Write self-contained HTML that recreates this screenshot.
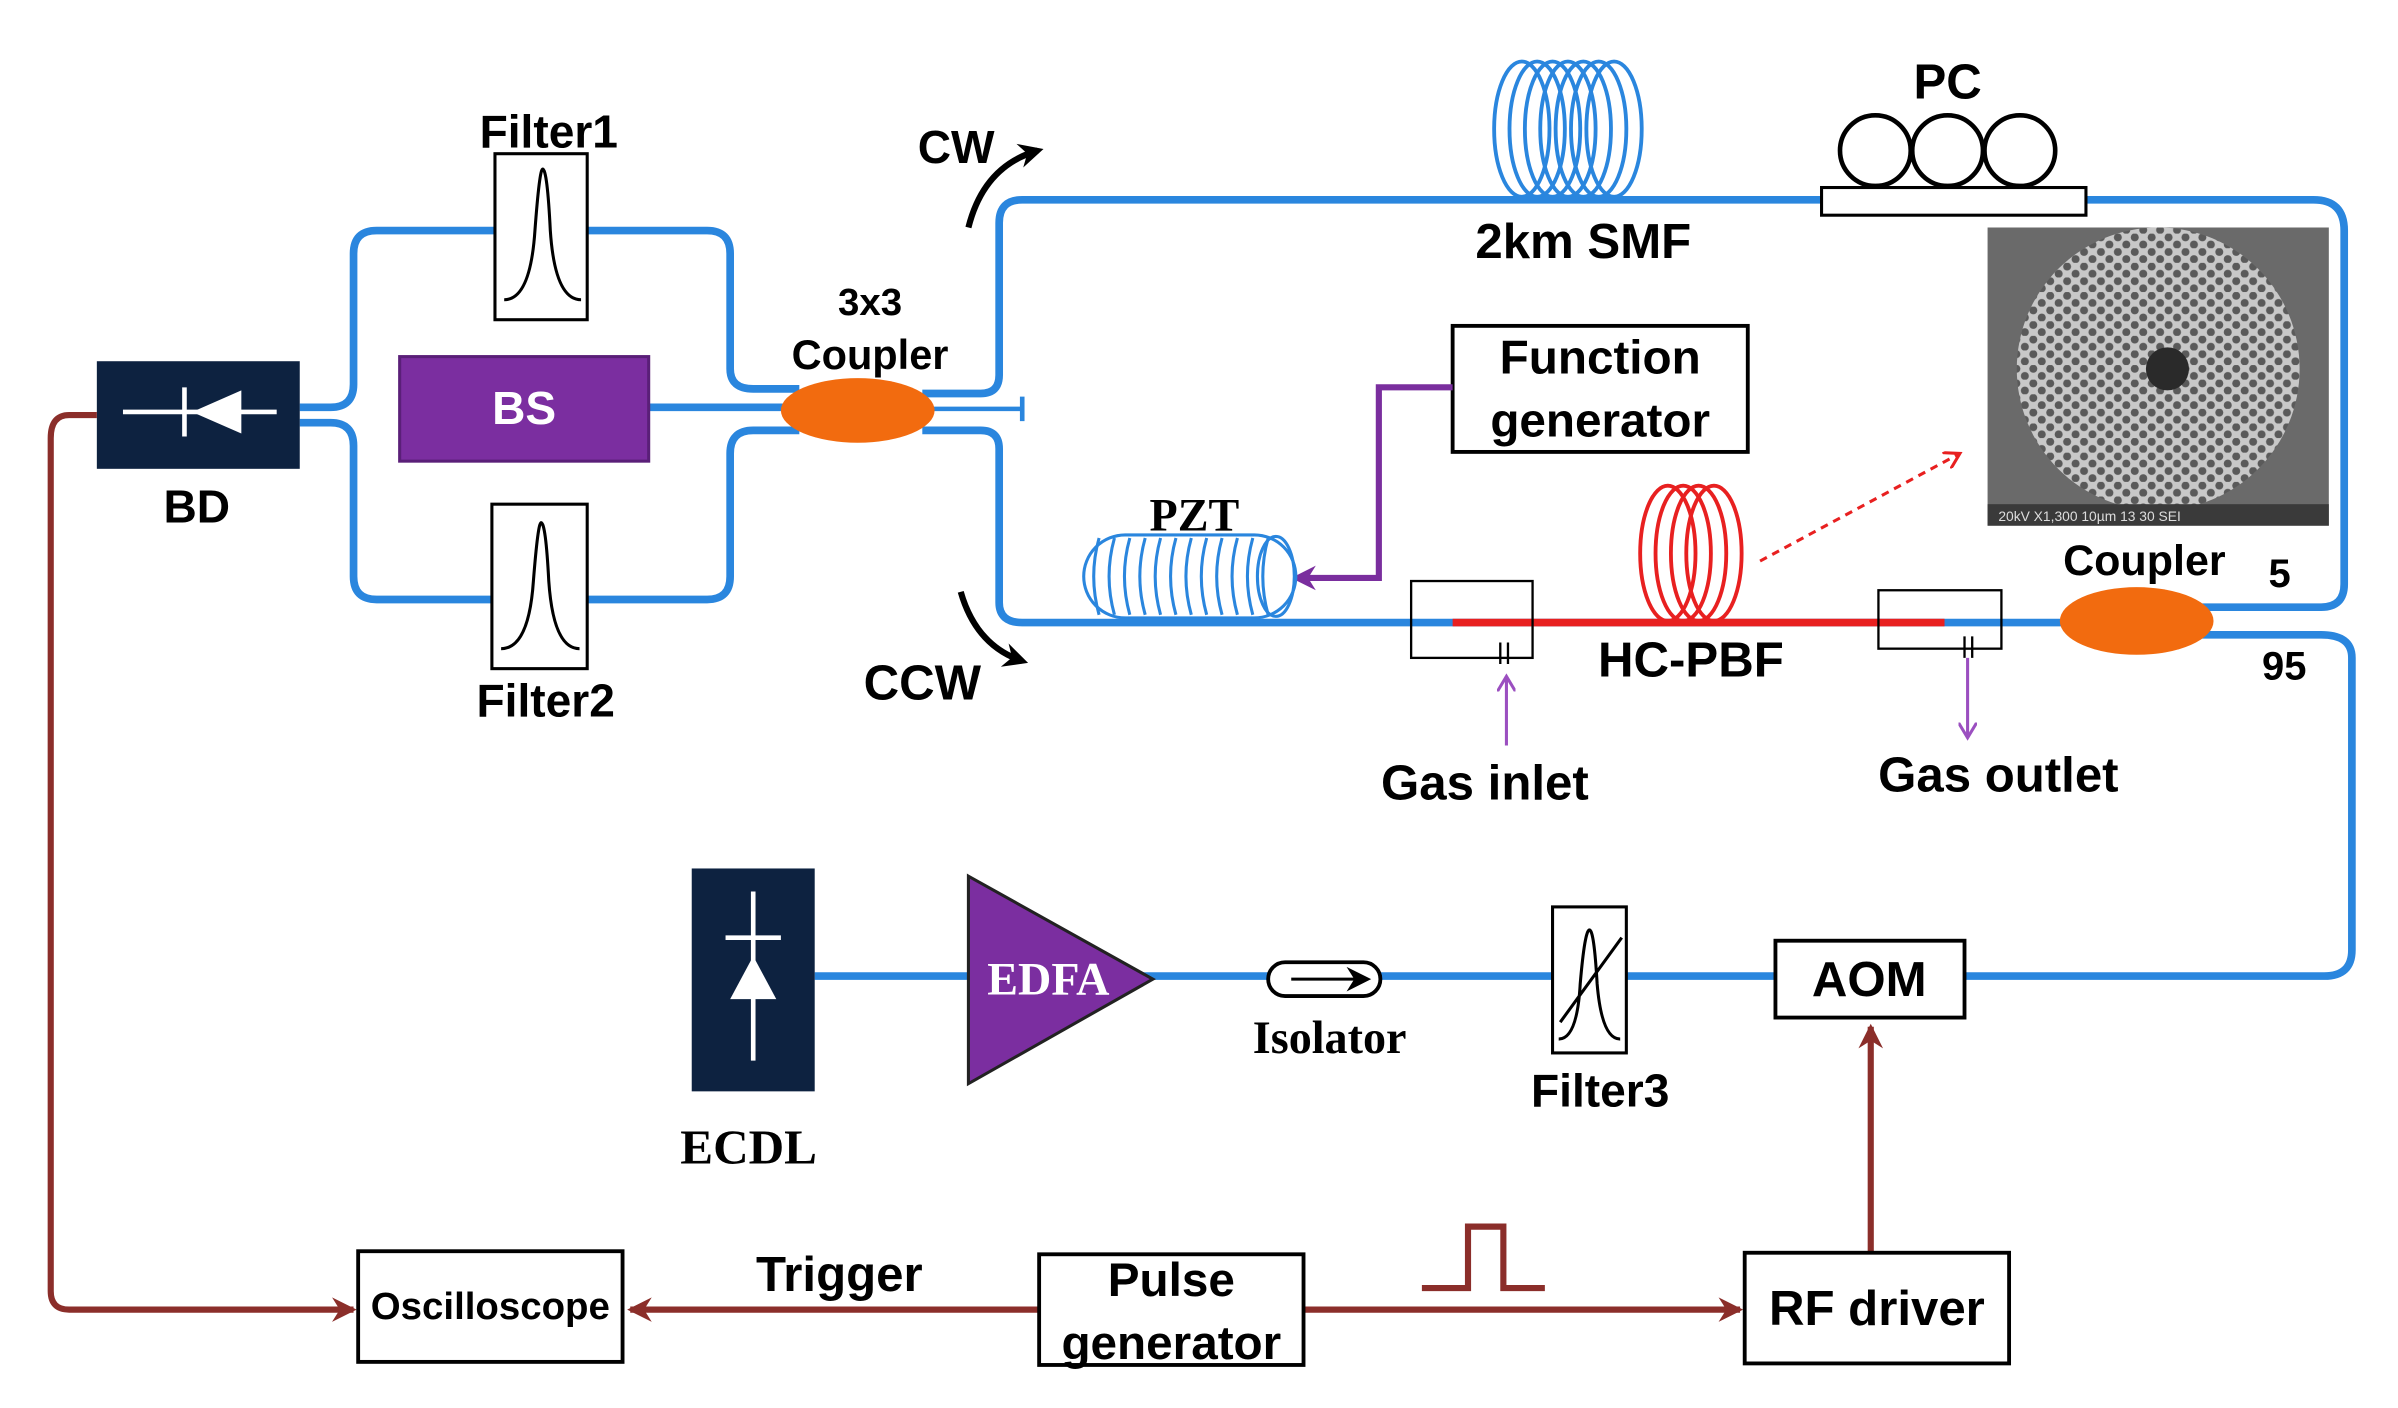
<!DOCTYPE html>
<html><head><meta charset="utf-8"><style>html,body{margin:0;padding:0;background:#fff}svg{display:block}</style></head><body>
<svg width="2398" height="1408" viewBox="0 0 1560 916" preserveAspectRatio="none" xmlns="http://www.w3.org/2000/svg" font-family="Liberation Sans, sans-serif" font-weight="bold">
<defs>
<marker id="brb" markerWidth="20" markerHeight="20" refX="14" refY="10" orient="auto" markerUnits="userSpaceOnUse"><path d="M0,2 L16,10 L0,18 L5,10z" fill="#8b2e2a"/></marker>
<marker id="pu" markerWidth="20" markerHeight="20" refX="14" refY="10" orient="auto" markerUnits="userSpaceOnUse"><path d="M0,2 L16,10 L0,18 L5,10z" fill="#7a2e9e"/></marker>
<marker id="pus" markerWidth="12" markerHeight="12" refX="10" refY="6" orient="auto" markerUnits="userSpaceOnUse"><path d="M0,0 L10,6 L0,12" fill="none" stroke="#9b4fc0" stroke-width="2"/></marker>
<marker id="bk" markerWidth="20" markerHeight="20" refX="12" refY="10" orient="auto" markerUnits="userSpaceOnUse"><path d="M0,2 L16,10 L0,18 L5,10z" fill="#000"/></marker>
<marker id="rd" markerWidth="12" markerHeight="12" refX="10" refY="6" orient="auto" markerUnits="userSpaceOnUse"><path d="M0,0 L10,6 L0,12" fill="none" stroke="#e82020" stroke-width="2"/></marker>
<pattern id="hc" width="11" height="9.5" patternUnits="userSpaceOnUse"><rect width="11" height="9.5" fill="#c8c8c8"/><circle cx="2.75" cy="2.4" r="2.6" fill="#5a5a5a"/><circle cx="8.25" cy="7.1" r="2.6" fill="#5a5a5a"/></pattern>
</defs>
<g fill="none" stroke="#2a86de" stroke-width="5" stroke-linejoin="round">
<path d="M195,265 H215 Q230,265 230,250 V165 Q230,150 245,150 H460 Q475,150 475,165 V240 Q475,253 490,253 H520"/>
<path d="M195,275 H215 Q230,275 230,290 V375 Q230,390 245,390 H460 Q475,390 475,375 V295 Q475,280 490,280 H520"/>
<path d="M422,265 H510"/>
<path d="M600,256 H638 Q650,256 650,244 V145 Q650,130 665,130 H1505 Q1525,130 1525,150 V380 Q1525,395 1510,395 H1430"/>
<path d="M600,266 H665 M665,258 V274" stroke-width="3"/>
<path d="M600,280 H638 Q650,280 650,292 V392 Q650,405 665,405 H1345"/>
<path d="M1430,413 H1510 Q1530,413 1530,428 V618 Q1530,635 1512,635 H1278"/>
<path d="M1155,635 H530"/>
</g>
<path d="M945,405 H1265" stroke="#e82020" stroke-width="5"/>
<rect x="63" y="235" width="132" height="70" fill="#0d2240"/>
<path d="M80,268 H180 M120,252 V284" stroke="#fff" stroke-width="3"/>
<path d="M157,254 L157,282 L125,268z" fill="#fff"/>
<text x="128" y="340" font-size="30" text-anchor="middle">BD</text>
<path d="M63,270 H45 Q33,270 33,285 V840 Q33,852 45,852 H230" fill="none" stroke="#8b2e2a" stroke-width="4" marker-end="url(#brb)"/>
<path d="M676,852 H410" fill="none" stroke="#8b2e2a" stroke-width="4" marker-end="url(#brb)"/>
<path d="M848,852 H1132" fill="none" stroke="#8b2e2a" stroke-width="4" marker-end="url(#brb)"/>
<path d="M1217,815 V668" fill="none" stroke="#8b2e2a" stroke-width="4" marker-end="url(#brb)"/>
<path d="M925,838 H955 V798 H978 V838 H1005" fill="none" stroke="#8b2e2a" stroke-width="4"/>
<rect x="322" y="100" width="60" height="108" fill="#fff" stroke="#000" stroke-width="2"/>
<path d="M328,195 Q345,195 348,150 Q351,110 353,110 Q356,110 358,150 Q361,195 378,195" fill="none" stroke="#000" stroke-width="2"/>
<rect x="320" y="328" width="62" height="107" fill="#fff" stroke="#000" stroke-width="2"/>
<path d="M326,422 Q344,422 347,378 Q350,340 352,340 Q355,340 357,378 Q360,422 377,422" fill="none" stroke="#000" stroke-width="2"/>
<text x="357" y="96" font-size="30" text-anchor="middle">Filter1</text>
<text x="355" y="466" font-size="30" text-anchor="middle">Filter2</text>
<rect x="260" y="232" width="162" height="68" fill="#7b2ea0" stroke="#5a1f78" stroke-width="2"/>
<text x="341" y="276" font-size="30" fill="#fff" text-anchor="middle">BS</text>
<ellipse cx="558" cy="267" rx="50" ry="21" fill="#f26b0f"/>
<text x="566" y="205" font-size="25" text-anchor="middle">3x3</text>
<text x="566" y="240" font-size="27" text-anchor="middle">Coupler</text>
<path d="M630,148 Q640,108 675,98" fill="none" stroke="#000" stroke-width="4" marker-end="url(#bk)"/>
<text x="622" y="106" font-size="30" text-anchor="middle">CW</text>
<path d="M625,385 Q635,420 665,430" fill="none" stroke="#000" stroke-width="4" marker-end="url(#bk)"/>
<text x="600" y="455" font-size="32" text-anchor="middle">CCW</text>
<g fill="none" stroke="#2a86de" stroke-width="2.5">
<ellipse cx="990" cy="84" rx="18" ry="44"/><ellipse cx="1000" cy="84" rx="18" ry="44"/><ellipse cx="1010" cy="84" rx="18" ry="44"/><ellipse cx="1020" cy="84" rx="18" ry="44"/><ellipse cx="1030" cy="84" rx="18" ry="44"/><ellipse cx="1040" cy="84" rx="18" ry="44"/><ellipse cx="1050" cy="84" rx="18" ry="44"/>
</g>
<text x="1030" y="168" font-size="32" text-anchor="middle">2km SMF</text>
<rect x="1185" y="122" width="172" height="18" fill="#fff" stroke="#000" stroke-width="2"/>
<circle cx="1220" cy="98" r="23" fill="#fff" stroke="#000" stroke-width="3"/>
<circle cx="1267" cy="98" r="23" fill="#fff" stroke="#000" stroke-width="3"/>
<circle cx="1314" cy="98" r="23" fill="#fff" stroke="#000" stroke-width="3"/>
<text x="1267" y="64" font-size="32" text-anchor="middle">PC</text>
<rect x="1293" y="148" width="222" height="194" fill="#6a6a6a"/>
<circle cx="1404" cy="240" r="92" fill="url(#hc)"/>
<circle cx="1410" cy="240" r="14" fill="#2a2a2a"/>
<rect x="1293" y="328" width="222" height="14" fill="#3a3a3a"/>
<text x="1300" y="339" font-size="9" font-weight="normal" fill="#ddd">20kV  X1,300  10µm   13 30 SEI</text>
<rect x="945" y="212" width="192" height="82" fill="#fff" stroke="#000" stroke-width="2.5"/>
<text x="1041" y="243" font-size="31" text-anchor="middle">Function</text>
<text x="1041" y="284" font-size="31" text-anchor="middle">generator</text>
<path d="M945,252 H897 V376 H842" fill="none" stroke="#7a2e9e" stroke-width="4" marker-end="url(#pu)"/>
<g fill="none" stroke="#2a86de" stroke-width="2">
<rect x="705" y="348" width="138" height="54" rx="27" fill="#fff"/>
<path d="M715,350 Q708,375 715,400 M725,350 Q718,375 725,400 M735,350 Q728,375 735,400 M745,350 Q738,375 745,400 M755,350 Q748,375 755,400 M765,350 Q758,375 765,400 M775,350 Q768,375 775,400 M785,350 Q778,375 785,400 M795,350 Q788,375 795,400 M805,350 Q798,375 805,400 M815,350 Q808,375 815,400 M825,350 Q818,375 825,400"/>
<ellipse cx="830" cy="375" rx="12" ry="26"/>
</g>
<text x="777" y="345" font-size="30" font-family="Liberation Serif, serif" text-anchor="middle">PZT</text>
<rect x="918" y="378" width="79" height="50" fill="none" stroke="#000" stroke-width="1.5"/>
<rect x="1222" y="384" width="80" height="38" fill="none" stroke="#000" stroke-width="1.5"/>
<path d="M976,418 V432 M981,418 V432 M1278,414 V428 M1283,414 V428" stroke="#000" stroke-width="1.5"/>
<path d="M980,485 V440" stroke="#9b4fc0" stroke-width="2" marker-end="url(#pus)"/>
<path d="M1280,428 V480" stroke="#9b4fc0" stroke-width="2" marker-end="url(#pus)"/>
<text x="966" y="520" font-size="32" text-anchor="middle">Gas inlet</text>
<text x="1300" y="515" font-size="32" text-anchor="middle">Gas outlet</text>
<g fill="none" stroke="#e82020" stroke-width="2.5">
<ellipse cx="1085" cy="360" rx="18" ry="44"/><ellipse cx="1095" cy="360" rx="18" ry="44"/><ellipse cx="1105" cy="360" rx="18" ry="44"/><ellipse cx="1115" cy="360" rx="18" ry="44"/>
</g>
<path d="M1145,365 L1275,295" stroke="#e82020" stroke-width="2" stroke-dasharray="5,4" fill="none" marker-end="url(#rd)"/>
<text x="1100" y="440" font-size="32" text-anchor="middle">HC-PBF</text>
<ellipse cx="1390" cy="404" rx="50" ry="22" fill="#f26b0f"/>
<text x="1395" y="374" font-size="28" text-anchor="middle">Coupler</text>
<text x="1483" y="382" font-size="26" text-anchor="middle">5</text>
<text x="1486" y="442" font-size="26" text-anchor="middle">95</text>
<rect x="450" y="565" width="80" height="145" fill="#0d2240"/>
<path d="M490,580 V690 M472,610 H508" stroke="#fff" stroke-width="3"/>
<path d="M475,650 L505,650 L490,622z" fill="#fff"/>
<text x="487" y="757" font-size="32" font-family="Liberation Serif, serif" text-anchor="middle">ECDL</text>
<path d="M630,570 L750,637 L630,705z" fill="#7b2ea0" stroke="#222" stroke-width="2"/>
<text x="682" y="647" font-size="30" font-family="Liberation Serif, serif" fill="#fff" text-anchor="middle">EDFA</text>
<rect x="825" y="626" width="73" height="22" rx="11" fill="#fff" stroke="#000" stroke-width="2.5"/>
<path d="M840,637 H888" stroke="#000" stroke-width="2" marker-end="url(#bk)"/>
<text x="865" y="685" font-size="30" font-family="Liberation Serif, serif" text-anchor="middle">Isolator</text>
<rect x="1010" y="590" width="48" height="95" fill="#fff" stroke="#000" stroke-width="2"/>
<path d="M1014,676 Q1026,676 1028,640 Q1031,605 1034,605 Q1037,605 1039,640 Q1042,676 1054,676 M1015,665 L1055,610" fill="none" stroke="#000" stroke-width="2"/>
<text x="1041" y="720" font-size="30" text-anchor="middle">Filter3</text>
<rect x="1155" y="612" width="123" height="50" fill="#fff" stroke="#000" stroke-width="2.5"/>
<text x="1216" y="648" font-size="32" text-anchor="middle">AOM</text>
<rect x="1135" y="815" width="172" height="72" fill="#fff" stroke="#000" stroke-width="2.5"/>
<text x="1221" y="862" font-size="32" text-anchor="middle">RF driver</text>
<rect x="676" y="816" width="172" height="72" fill="#fff" stroke="#000" stroke-width="2.5"/>
<text x="762" y="843" font-size="31" text-anchor="middle">Pulse</text>
<text x="762" y="884" font-size="31" text-anchor="middle">generator</text>
<rect x="233" y="814" width="172" height="72" fill="#fff" stroke="#000" stroke-width="2.5"/>
<text x="319" y="858" font-size="25" text-anchor="middle">Oscilloscope</text>
<text x="546" y="840" font-size="32" text-anchor="middle">Trigger</text>
</svg>
</body></html>
